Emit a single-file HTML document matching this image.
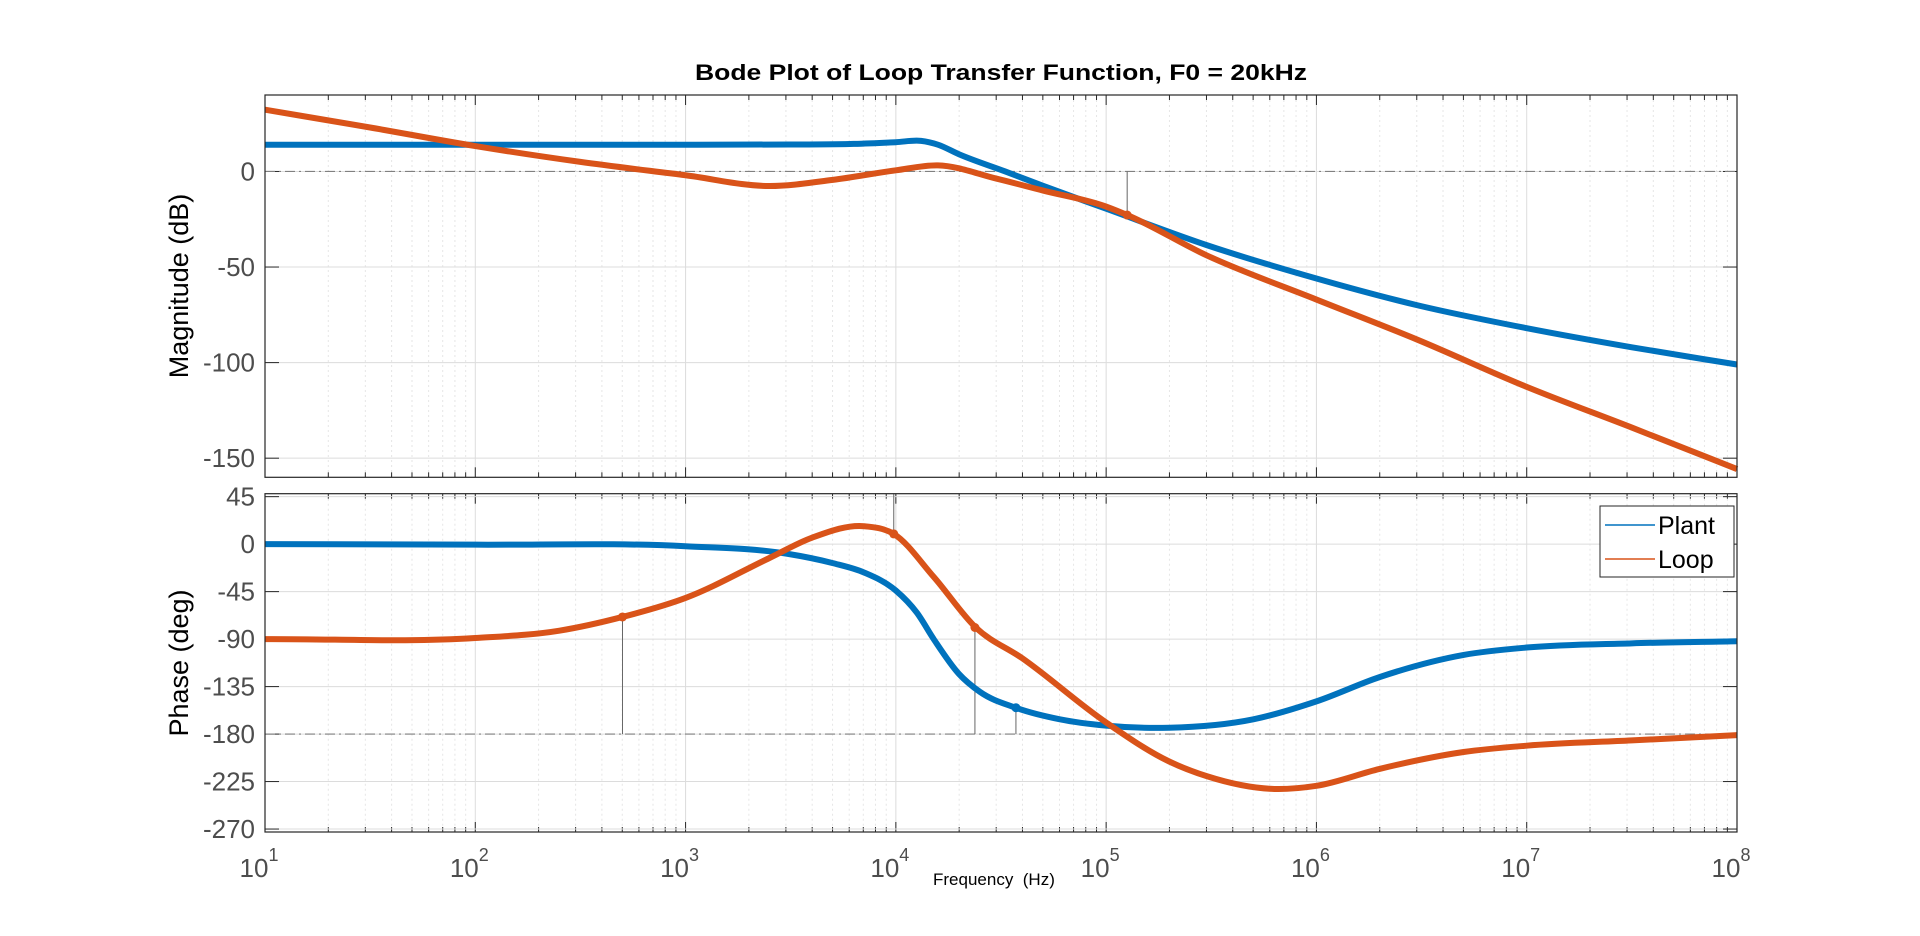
<!DOCTYPE html>
<html><head><meta charset="utf-8"><style>
html,body{margin:0;padding:0;background:#fff;width:1920px;height:936px;overflow:hidden}
svg{display:block;font-family:"Liberation Sans",Arial,sans-serif}
</style></head><body>
<svg id="chart" width="1920" height="936" viewBox="0 0 1920 936" xmlns="http://www.w3.org/2000/svg">
<text x="1001" y="80" text-anchor="middle" font-size="22" font-weight="bold" fill="#000" textLength="612" lengthAdjust="spacingAndGlyphs">Bode Plot of Loop Transfer Function, F0 = 20kHz</text>
<g id="mag"></g>
<g id="ph"></g>
<text transform="translate(188,286) rotate(-90)" text-anchor="middle" font-size="27" fill="#000">Magnitude (dB)</text>
<text transform="translate(188,663) rotate(-90)" text-anchor="middle" font-size="27" fill="#000">Phase (deg)</text>
<text x="933" y="885" font-size="17" fill="#000" xml:space="preserve">Frequency  (Hz)</text>
<g>
<rect x="1600" y="506" width="134" height="71" fill="#fff" stroke="#262626" stroke-width="1"/>
<line x1="1605" y1="525" x2="1655" y2="525" stroke="#0072BD" stroke-width="1.5"/>
<text x="1658" y="534" font-size="25" fill="#000">Plant</text>
<line x1="1605" y1="559" x2="1655" y2="559" stroke="#D95319" stroke-width="1.5"/>
<text x="1658" y="568" font-size="25" fill="#000">Loop</text>
</g>
</svg>
<script>
// Data (log10 frequency, value)
const plantMagF = [1,2,3,3.5,3.8,4.0,4.12,4.2,4.3,4.52,4.7,5,5.48,6,6.48,7,7.5,8];
const plantMagV = [14,14,14,14.1,14.4,15.3,16,14,9,0,-7.5,-19.5,-38.6,-56,-70,-82,-92,-101];
const loopMagF = [1,1.5,2,2.5,3,3.4,3.7,4,4.2,4.48,4.7,5,5.1,5.48,6,6.48,7,7.5,8];
const loopMagV = [32.3,23,13.3,5,-2,-7.6,-4.4,0.6,3.2,-3.8,-10,-18.4,-22.8,-44,-67,-88,-112.7,-134,-155.7];
const plantPhF = [1,2,3,3.48,3.7,3.85,4,4.1,4.18,4.3,4.4,4.57,4.78,5,5.3,5.7,6,6.3,6.7,7,7.5,8];
const plantPhV = [0,-0.5,-2,-9,-18,-27,-44,-65,-90,-123,-140,-155,-166,-172,-174,-166,-149,-126,-105,-98,-94,-92];
const loopPhF = [1,2,2.4,2.7,3,3.4,3.6,3.85,3.99,4.18,4.38,4.6,5,5.3,5.48,5.8,6,6.3,6.7,7,7.5,8];
const loopPhV = [-90,-89,-82,-69,-51,-13,6,17,9.7,-31,-79,-108,-169,-206,-220,-232,-229,-213,-197,-191,-186,-181];
const magTicks = [0,-50,-100,-150];
const phTicks = [45,0,-45,-90,-135,-180,-225,-270];
const decades = [1,2,3,4,5,6,7,8];
const magMarkers = [[5.1,-22.8,'#D95319',0]];
const phMarkers = [[2.7,-69,'#D95319',-180],[3.99,9.7,'#D95319',48],[4.376,-79,'#D95319',-180],[4.571,-155,'#0072BD',-180]];

const NS='http://www.w3.org/2000/svg';
const L=265,R=1737;
const xs=lf=>L+(lf-1)*(R-L)/7;
const magTop=95,magBot=477.3,magMax=40,magMin=-160;
const phTop=493.7,phBot=832,phMax=47.8,phMin=-272.8;
const ym=v=>magTop+(magMax-v)*(magBot-magTop)/(magMax-magMin);
const yp=v=>phTop+(phMax-v)*(phBot-phTop)/(phMax-phMin);
function mk(tag,attrs,parent){const e=document.createElementNS(NS,tag);for(const k in attrs)e.setAttribute(k,attrs[k]);parent.appendChild(e);return e;}
function smooth(F,V,xf,yf){
  const p=F.map((f,i)=>[xf(f),yf(V[i])]);const n=p.length;
  const m=p.map((q,i)=>{
    if(i===0) return (p[1][1]-p[0][1])/(p[1][0]-p[0][0]);
    if(i===n-1) return (p[n-1][1]-p[n-2][1])/(p[n-1][0]-p[n-2][0]);
    const s0=(p[i][1]-p[i-1][1])/(p[i][0]-p[i-1][0]),s1=(p[i+1][1]-p[i][1])/(p[i+1][0]-p[i][0]);
    const h0=p[i][0]-p[i-1][0],h1=p[i+1][0]-p[i][0];
    return (s0*h1+s1*h0)/(h0+h1);});
  let d='M'+p[0][0]+','+p[0][1];
  for(let i=0;i<n-1;i++){const h=p[i+1][0]-p[i][0];
    d+=`C${p[i][0]+h/3},${p[i][1]+m[i]*h/3} ${p[i+1][0]-h/3},${p[i+1][1]-m[i+1]*h/3} ${p[i+1][0]},${p[i+1][1]}`;}
  return d;}
function axes(g,top,bot,ticks,yf,fn,isMag){
  const grid=mk('g',{},g);
  
  
  decades.forEach(dk=>{
    if(dk>1&&dk<8) mk('line',{x1:xs(dk),x2:xs(dk),y1:top,y2:bot,stroke:'#dcdcdc','stroke-width':1},grid);
    if(dk<8) for(let k=2;k<=9;k++){const x=xs(dk+Math.log10(k));
      mk('line',{x1:x,x2:x,y1:top,y2:bot,stroke:'#e6e6e6','stroke-width':1,'stroke-dasharray':'2,3'},grid);
      mk('line',{x1:x,x2:x,y1:top,y2:top+5,stroke:'#262626','stroke-width':1},grid);
      mk('line',{x1:x,x2:x,y1:bot,y2:bot-5,stroke:'#262626','stroke-width':1},grid);}
    mk('line',{x1:xs(dk),x2:xs(dk),y1:top,y2:top+10,stroke:'#262626','stroke-width':1},grid);
    mk('line',{x1:xs(dk),x2:xs(dk),y1:bot,y2:bot-10,stroke:'#262626','stroke-width':1},grid);
  });
  ticks.forEach(t=>{const y=yf(t);
    mk('line',{x1:L,x2:R,y1:y,y2:y,stroke:'#dcdcdc','stroke-width':1},grid);
    mk('line',{x1:L,x2:L+14,y1:y,y2:y,stroke:'#262626','stroke-width':1},grid);
    mk('line',{x1:R,x2:R-14,y1:y,y2:y,stroke:'#262626','stroke-width':1},grid);
    const tx=mk('text',{x:255,y:y+9,'text-anchor':'end','font-size':26,fill:'#4d4d4d'},g);
    
    
    tx.textContent=t;});
  const ref=mk('line',{x1:L,x2:R,y1:yf(isMag?0:-180),y2:yf(isMag?0:-180),stroke:'#808080','stroke-width':1.2,'stroke-dasharray':'10,4,2,4'},g);
  
  
  fn();
  const box=mk('rect',{x:L,y:top,width:R-L,height:bot-top,fill:'none',stroke:'#262626','stroke-width':1.2},g);
  
  
}
const gm=document.getElementById('mag'),gp=document.getElementById('ph');
axes(gm,magTop,magBot,magTicks,ym,()=>{
  magMarkers.forEach(m=>{const l=mk('line',{x1:xs(m[0]),x2:xs(m[0]),y1:ym(m[3]),y2:ym(m[1]),stroke:'#666','stroke-width':1},gm);
    
    });
  const p1=mk('path',{d:smooth(plantMagF,plantMagV,xs,ym),fill:'none',stroke:'#0072BD','stroke-width':6},gm);
  
  
  const p2=mk('path',{d:smooth(loopMagF,loopMagV,xs,ym),fill:'none',stroke:'#D95319','stroke-width':6},gm);
  
  
  magMarkers.forEach(m=>{const c=mk('circle',{cx:xs(m[0]),cy:ym(m[1]),r:4.5,fill:m[2]},gm);
    
    });
},true);
axes(gp,phTop,phBot,phTicks,yp,()=>{
  phMarkers.forEach(m=>{const l=mk('line',{x1:xs(m[0]),x2:xs(m[0]),y1:yp(m[3]),y2:yp(m[1]),stroke:'#666','stroke-width':1},gp);
    
    });
  const p1=mk('path',{d:smooth(plantPhF,plantPhV,xs,yp),fill:'none',stroke:'#0072BD','stroke-width':6},gp);
  
  
  const p2=mk('path',{d:smooth(loopPhF,loopPhV,xs,yp),fill:'none',stroke:'#D95319','stroke-width':6},gp);
  
  
  phMarkers.forEach(m=>{const c=mk('circle',{cx:xs(m[0]),cy:yp(m[1]),r:4.5,fill:m[2]},gp);
    
    });
},false);
const svg=document.getElementById('chart');
decades.forEach(dk=>{
  const t=mk('text',{x:xs(dk)-6,y:877,'text-anchor':'middle','font-size':26,fill:'#4d4d4d'},svg);
  
  
  t.textContent='10';
  const s=mk('tspan',{dy:-16,'font-size':18},t);
  s.textContent=String(dk);
});
</script>
</body></html>
